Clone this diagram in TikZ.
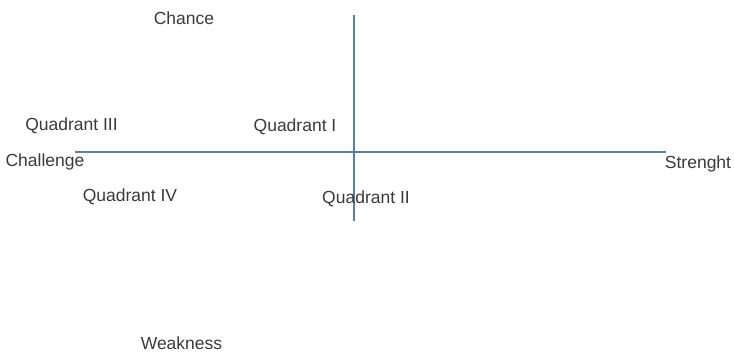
\documentclass[tikz,border=0pt]{standalone}
\usepackage{fontspec}
\setmainfont{Liberation Sans}
\usetikzlibrary{positioning}
\definecolor{axisblue}{RGB}{84,130,168}
\definecolor{labelgray}{RGB}{58,58,58}

\begin{document}
\begin{tikzpicture}[x=1pt, y=-1pt,
    lbl/.style={font=\fontsize{17.5}{20}\selectfont, text=labelgray, inner sep=0pt},
    axis/.style={draw=axisblue, line width=1.6pt},
]
\useasboundingbox (0,0) rectangle (734,354);

% Axes
\coordinate (left) at (75,152);
\coordinate (right) at (666,152);
\coordinate (top) at (354,15);
\coordinate (bottom) at (354,221);
\draw[axis] (left) -- (right);
\draw[axis] (top) -- (bottom);

% Ends
\node[lbl] (chance) at (184,18) {Chance};
\node[lbl] (challenge) at (45,162) {Challenge};
\node[lbl] (strength) at (698,164) {Strenght};
\node[lbl] (weakness) at (181.5,343) {Weakness};

% Quadrants
\node[lbl] (q1) at (295,127) {Quadrant I};
\node[lbl] (q2) at (366,199) {Quadrant II};
\node[lbl] (q3) at (71.5,126) {Quadrant III};
\node[lbl] (q4) at (130,197) {Quadrant IV};

\end{tikzpicture}
\end{document}
